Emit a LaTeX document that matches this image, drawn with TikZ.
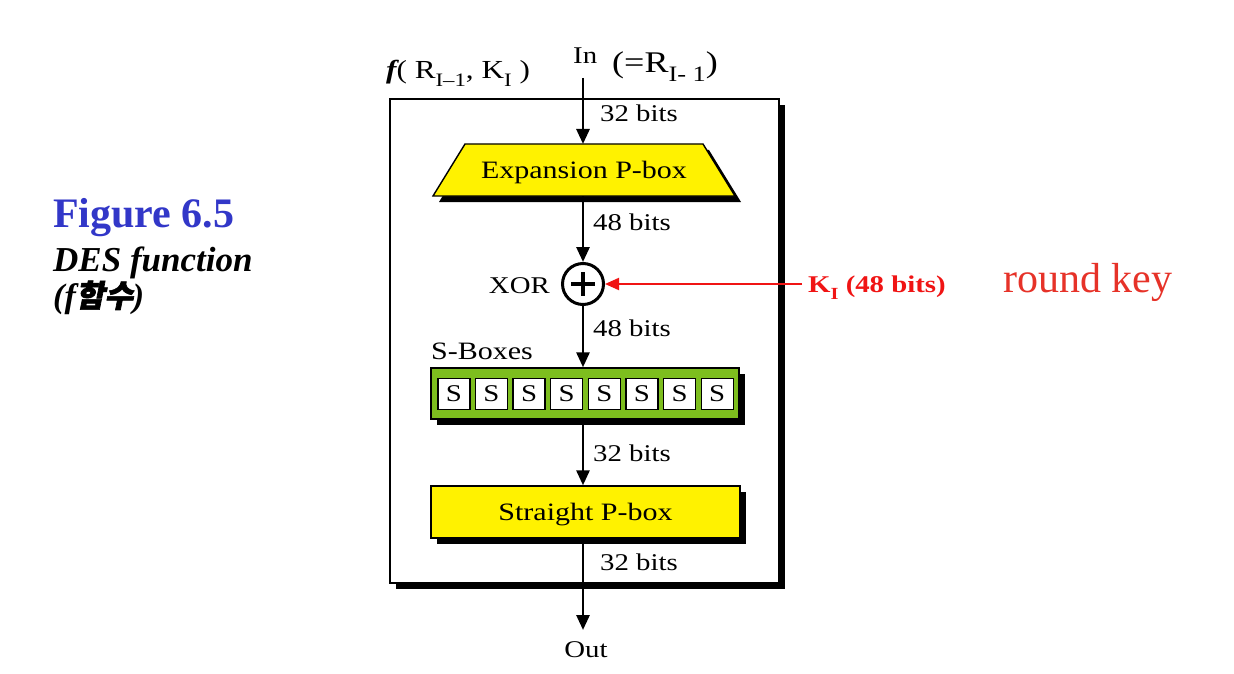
\documentclass[tikz,border=0pt]{standalone}
\usepackage{fontspec}
\setmainfont{Liberation Serif}
\newfontfamily\fig[FakeStretch=1.2]{Liberation Serif}
\newfontfamily\kr[FakeSlant=0.2,FakeBold=2]{Noto Sans CJK KR}
\usetikzlibrary{arrows.meta,shapes.geometric,shadows}
\newcommand\fsz[1]{\fontsize{#1}{#1}\selectfont}
\newcommand\mysub[2]{\raisebox{-0.3em}{\fsz{#1}#2}}
\definecolor{figblue}{RGB}{50,55,200}
\definecolor{kred}{RGB}{240,20,20}
\definecolor{rkred}{RGB}{230,50,40}
\definecolor{sgreen}{RGB}{125,190,30}
\begin{document}
\begin{tikzpicture}[x=1pt,y=-1pt,
  arr/.style={line width=2.8pt,-{Triangle[length=15pt,width=13pt]}},
  redarr/.style={line width=2pt,kred,-{Triangle[length=14pt,width=12pt]}},
  lbl/.style={font=\fig\fsz{24},inner sep=0,anchor=base west},
  shad/.style={drop shadow={shadow xshift=6pt,shadow yshift=-6pt,fill=black,opacity=1}},
  ybox/.style={draw,line width=1.4pt,fill=yellow,shad,inner sep=0,text depth=0pt,font=\fig\fsz{25}},
  sq/.style={draw,line width=1.4pt,fill=white,minimum width=32pt,minimum height=31pt,inner sep=0,text depth=0pt,font=\fig\fsz{24}}
]
\useasboundingbox (0,0) rectangle (1234,674);
% outer frame
\node[draw,line width=1.8pt,fill=white,shad,minimum width=389pt,minimum height=484pt,inner sep=0] (frame) at (584.5,341) {};
% labels on top
\node[anchor=base west,inner sep=0,font=\fig\fsz{24}] (in) at (573,64) {In};
\node[anchor=base west,inner sep=0,font=\fig\fsz{30}] (inr) at (612,73) {(=R\mysub{22}{I- 1})};
\node[anchor=base west,inner sep=0,font=\fig\fsz{26}] (fl) at (386,79) {{\bfseries\itshape f}( R\mysub{19}{I–1}, K\mysub{19}{I} )};
% expansion
\path[draw,line width=1.4pt,fill=yellow,shad] (465,144) -- (703,144) -- (735,196) -- (433,196) -- cycle;
\node[inner sep=0,text depth=0pt,font=\fig\fsz{25}] (exp) at (584,170) {Expansion P-box};
\coordinate (expN) at (583,144);
\coordinate (expS) at (583,196);
% xor
\node[circle,draw,line width=3pt,minimum size=41pt,inner sep=0,fill=white] (xor) at (583,284) {};
\draw[line width=3.5pt] (xor.center) ++(-12,0) -- ++(24,0);
\draw[line width=3.5pt] (xor.center) ++(0,-12) -- ++(0,24);
\node[anchor=base east,inner sep=0,font=\fig\fsz{24}] (xorl) at (550,293) {XOR};
% S-boxes
\node[draw,line width=1.4pt,fill=sgreen,shad,minimum width=308pt,minimum height=51pt,inner sep=0] (sb) at (585,393.5) {};
\foreach \i in {0,...,7} {
  \node[sq] (s\i) at (453.8+37.63*\i,393.7) {S};
}
\node[lbl,font=\fig\fsz{25}] (sbl) at (431,359) {S-Boxes};
% straight P-box
\node[ybox,minimum width=309pt,minimum height=52pt] (pb) at (585.5,512) {Straight P-box};
% coordinates
\coordinate (inTop) at (583,78);
\coordinate (outTip) at (583,630);
\coordinate (kStart) at (802,284);
% arrows
\draw[arr] (inTop) -- (expN);
\draw[arr] (expS) -- (xor.north);
\draw[arr] (xor.south) -- (inTop |- sb.north);
\draw[arr] (inTop |- sb.south) -- (inTop |- pb.north);
\draw[arr] (inTop |- pb.south) -- (outTip);
\draw[redarr] (kStart) -- (xor.east);
% bit labels
\node[lbl] (b1) at (600,122) {32 bits};
\node[lbl] (b2) at (593,230) {48 bits};
\node[lbl] (b3) at (593,336) {48 bits};
\node[lbl] (b4) at (593,461) {32 bits};
\node[lbl] (b5) at (600,570) {32 bits};
\node[anchor=base,inner sep=0,font=\fig\fsz{24}] (out) at (586,657) {Out};
% key
\node[anchor=base west,inner sep=0,font=\fig\bfseries\fsz{24},text=kred] (ki) at (808,292) {K\mysub{17}{I} (48 bits)};
\node[anchor=base west,inner sep=0,font=\fsz{42},text=rkred] (rk) at (1003,292) {round key};
% caption
\node[anchor=base west,inner sep=0,font=\bfseries\fsz{42},text=figblue] (figl) at (53,227) {Figure 6.5};
\node[anchor=base west,inner sep=0,font=\bfseries\itshape\fsz{35}] (des) at (53,271) {DES function};
\node[anchor=base west,inner sep=0,font=\bfseries\itshape\fsz{34}] (fh) at (53,307) {(f{\kr\fsz{31}함수})};
\end{tikzpicture}
\end{document}
